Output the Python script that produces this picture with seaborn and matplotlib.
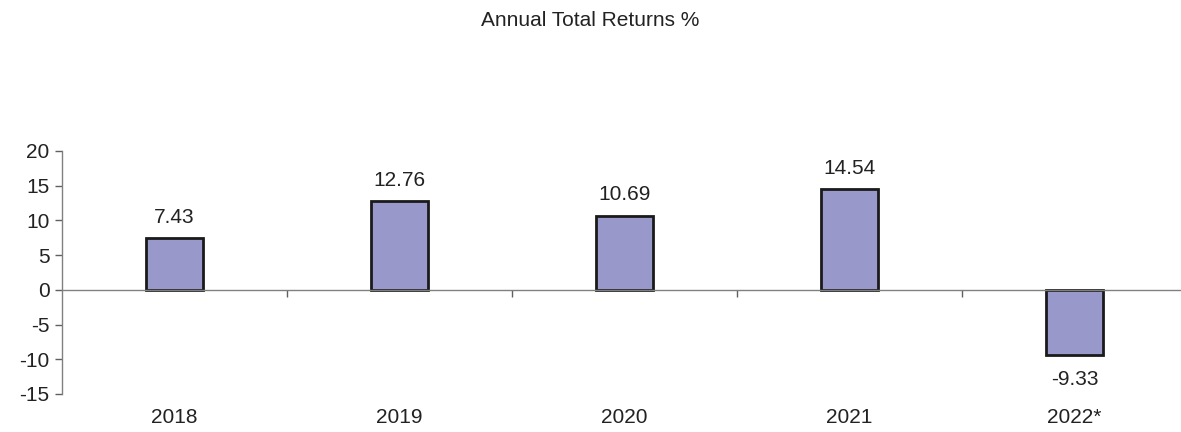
import pandas as pd
import seaborn as sns
import matplotlib.pyplot as plt
from matplotlib.ticker import FixedLocator

# Data
years = ["2018", "2019", "2020", "2021", "2022*"]
returns = [7.43, 12.76, 10.69, 14.54, -9.33]
yticks = [-15, -10, -5, 0, 5, 10, 15, 20]

df = pd.DataFrame({"Year": years, "Return": returns})

sns.set_theme(style="white")
plt.rcParams["font.family"] = ["Liberation Sans", "DejaVu Sans"]

FS = 15
TXT = "#222222"

fig = plt.figure(figsize=(11.81, 4.32), dpi=100)
ax = fig.add_axes([0.0525, 0.088, 0.9526, 0.5625])

sns.barplot(data=df, x="Year", y="Return", color="#9898CA", saturation=1,
            width=0.25, edgecolor="#1a1a1a", linewidth=2, ax=ax)

ax.set_ylim(-15, 20)
ax.set_xlim(-0.5, 4.5)
ax.set_yticks(yticks)
ax.set_yticklabels([str(t) for t in yticks], fontsize=FS, color=TXT)
ax.set_xlabel("")
ax.set_ylabel("")

# Spines: y axis on left, x axis through zero
for s in ["top", "right"]:
    ax.spines[s].set_visible(False)
ax.spines["bottom"].set_position(("data", 0))
for s in ["bottom", "left"]:
    ax.spines[s].set_color("#808080")
    ax.spines[s].set_linewidth(1)

ax.xaxis.set_major_locator(FixedLocator([0.5, 1.5, 2.5, 3.5]))
ax.set_xticklabels([])
ax.tick_params(axis="x", bottom=True, direction="out", length=5, color="#606060", width=1)
ax.tick_params(axis="y", left=True, direction="out", length=5, color="#606060", width=1, pad=4)

# Category labels below the plot area
trans = ax.get_xaxis_transform()
for i, yr in enumerate(years):
    ax.text(i, -0.095, yr, transform=trans, ha="center", va="center",
            fontsize=FS, color=TXT)

# Value labels
for i, v in enumerate(returns):
    off = 15 if v >= 0 else -18
    ax.annotate(f"{v:.2f}", (i, v), xytext=(0, off), textcoords="offset points",
                ha="center", va="center", fontsize=FS, color=TXT)

fig.text(0.5, 0.953, "Annual Total Returns %", ha="center", va="center",
         fontsize=FS, color=TXT)

fig.savefig("out.png", dpi=100)
